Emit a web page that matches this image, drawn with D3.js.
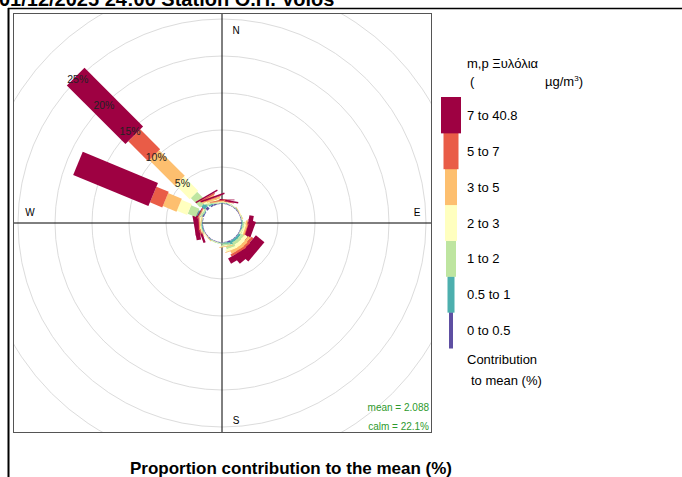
<!DOCTYPE html>
<html><head><meta charset="utf-8">
<script src="https://cdn.jsdelivr.net/npm/d3@7"></script>
<style>body{margin:0;background:#fff;font-family:"Liberation Sans",Arial,sans-serif}</style>
</head><body><svg id="c" width="682" height="477"></svg>
<script>
const directions = [0,10,20,30,40,50,60,70,80,90,100,110,120,130,140,150,160,170,180,190,200,210,220,230,240,250,260,270,280,292.5,300,315,330,340,350];
const s0_05  = [0.1,0.1,0.1,0.1,0.1,0.1,0.1,0.1,0.1,0.1,0.1,0.1,0.1,0.1,0.1,0.1,0.2,0.1,0.1,0.1,0.1,0.1,0.1,0.1,0.1,0.1,0.1,0.1,0.1,0.4,0.1,0.4,0.2,0.2,0.1];
const s05_1  = [0.1,0.0,0.1,0.0,0.0,0.1,0.0,0.0,0.0,0.1,0.1,0.1,0.0,0.3,0.3,0.3,0.4,0.2,0.0,0.1,0.0,0.0,0.1,0.0,0.0,0.1,0.1,0.1,0.0,0.6,0.1,0.6,0.2,0.1,0.0];
const s1_2   = [0.1,0.1,0.0,0.0,0.1,0.0,0.0,0.0,0.1,0.0,0.2,0.2,0.1,0.4,0.4,0.4,0.4,0.2,0.1,0.0,0.0,0.1,0.0,0.0,0.0,0.1,0.1,0.1,0.1,1.2,0.2,1.8,0.3,0.2,0.1];
const s2_3   = [0.0,0.1,0.0,0.1,0.0,0.0,0.0,0.1,0.0,0.0,0.2,0.2,0.1,0.5,0.5,0.5,0.3,0.1,0.0,0.0,0.1,0.0,0.0,0.0,0.1,0.0,0.1,0.1,0.0,1.5,0.1,2.7,0.3,0.2,0.1];
const s3_5   = [0.1,0.0,0.0,0.0,0.0,0.0,0.1,0.0,0.0,0.0,0.2,0.2,0.0,0.4,0.4,0.4,0.1,0.1,0.0,0.0,0.0,0.0,0.0,0.1,0.0,0.1,0.1,0.1,0.1,2.0,0.1,4.9,0.3,0.2,0.1];
const s5_7   = [0.1,0.1,0.0,0.0,0.0,0.0,0.0,0.0,0.0,0.0,0.1,0.1,0.0,0.3,0.3,0.3,0.0,0.0,0.0,0.0,0.0,0.0,0.0,0.0,0.0,0.0,0.1,0.1,0.0,1.8,0.1,3.8,0.2,0.1,0.1];
const s7_max = [0.1,0.2,0.0,0.0,0.0,0.0,0.0,0.0,0.0,0.0,0.6,0.8,0.0,1.5,1.2,0.8,0.0,0.0,0.0,0.0,0.0,0.0,0.0,0.0,0.0,0.3,0.6,0.4,0.0,11.0,0.1,11.2,0.2,0.2,0.0];
const bandLabels = ["0 to 0.5","0.5 to 1","1 to 2","2 to 3","3 to 5","5 to 7","7 to 40.8"];
const bandColors = ["#5E4FA2","#4DAFAE","#BEE5A0","#FFFFBF","#FDBF6F","#E95C47","#9E0142"];
const ringTicks = [5,10,15,20,25,30];

const series=[s0_05,s05_1,s1_2,s2_3,s3_5,s5_7,s7_max];
const barW=[3,6,9,12,14,17,25];
const legW=[4,7,10,12,12,15,20];
const svg=d3.select("#c");
const cx=222, cy=223;
const r=d3.scaleLinear().domain([0,25]).range([19,204]);
const rad=a=>a*Math.PI/180;

svg.append("text").attr("x",-1).attr("y",6).attr("font-size",20).attr("font-weight","bold").text("01/12/2025 24:00 Station Ο.Π. Volos");
svg.append("line").attr("x1",8).attr("x2",682).attr("y1",8.5).attr("y2",8.5).attr("stroke","#000").attr("stroke-width",1.5);
svg.append("line").attr("x1",8.5).attr("x2",8.5).attr("y1",8).attr("y2",477).attr("stroke","#000").attr("stroke-width",2);

svg.append("defs").append("clipPath").attr("id","clip").append("rect").attr("x",13).attr("y",13).attr("width",419).attr("height",420);
const g=svg.append("g").attr("clip-path","url(#clip)");
ringTicks.forEach(t=>g.append("circle").attr("cx",cx).attr("cy",cy).attr("r",r(t)).attr("fill","none").attr("stroke","#dcdcdc").attr("stroke-width",1));
g.append("line").attr("x1",cx).attr("x2",cx).attr("y1",13).attr("y2",433).attr("stroke","#000");
g.append("line").attr("x1",13).attr("x2",432).attr("y1",cy).attr("y2",cy).attr("stroke","#000");

const wg=g.append("g").attr("transform",`translate(${cx},${cy})`);
directions.forEach((d,i)=>{
  let c=0;
  const bg=wg.append("g").attr("transform",`rotate(${d})`);
  series.forEach((s,k)=>{
    const v=s[i]; if(v<=0) return;
    bg.append("rect").attr("x",-barW[k]/2).attr("width",barW[k]).attr("y",-r(c+v)).attr("height",r(c+v)-r(c)).attr("fill",bandColors[k]);
    c+=v;
  });
});
ringTicks.filter(t=>t<=25).forEach(t=>{
  const a=rad(315);
  g.append("text").attr("x",cx+r(t)*Math.sin(a)).attr("y",cy-r(t)*Math.cos(a)+4).attr("text-anchor","middle").attr("font-size",10.5).attr("fill","#222").text(t+"%");
});
svg.append("rect").attr("x",13.5).attr("y",13.5).attr("width",418).attr("height",419).attr("fill","none").attr("stroke","#555");
const comp=[["N",236,34],["E",417,216],["S",236,424],["W",30,216]];
comp.forEach(c=>svg.append("text").attr("x",c[1]).attr("y",c[2]).attr("text-anchor","middle").attr("font-size",10).text(c[0]));
svg.append("text").attr("x",429).attr("y",411).attr("text-anchor","end").attr("font-size",10).attr("fill","#2E9A2E").text("mean = 2.088");
svg.append("text").attr("x",429).attr("y",430).attr("text-anchor","end").attr("font-size",10).attr("fill","#2E9A2E").text("calm = 22.1%");

svg.append("text").attr("x",467).attr("y",68).attr("font-size",13).text("m,p Ξυλόλια");
svg.append("text").attr("x",470).attr("y",86).attr("font-size",13).text("(");
svg.append("text").attr("x",545).attr("y",86).attr("font-size",13).html('µg/m<tspan dy="-5" font-size="8">3</tspan><tspan dy="5">)</tspan>');
const ly=d3.scaleBand().domain(d3.range(7).reverse()).range([97,348]);
d3.range(7).forEach(k=>{
  svg.append("rect").attr("x",451-legW[k]/2).attr("y",ly(k)).attr("width",legW[k]).attr("height",ly.bandwidth()+0.5).attr("fill",bandColors[k]);
  svg.append("text").attr("x",467).attr("y",ly(k)+ly.bandwidth()/2+5).attr("font-size",13).text(bandLabels[k]);
});
svg.append("text").attr("x",467).attr("y",364).attr("font-size",13).text("Contribution");
svg.append("text").attr("x",471).attr("y",385).attr("font-size",13).text("to mean (%)");
svg.append("text").attr("x",291).attr("y",474).attr("text-anchor","middle").attr("font-size",17).attr("font-weight","bold").text("Proportion contribution to the mean (%)");
</script></body></html>
